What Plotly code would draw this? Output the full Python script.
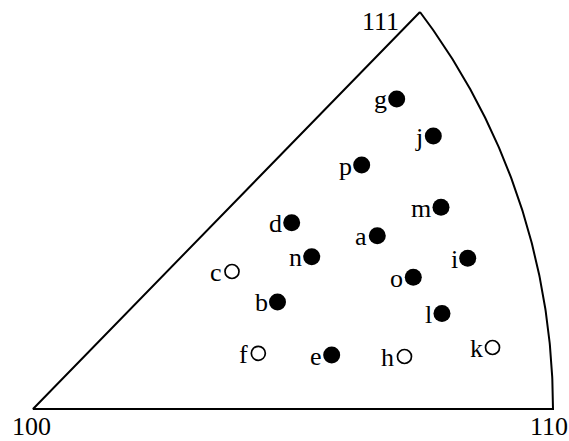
import numpy as np
import plotly.graph_objects as go

# Corners of the standard stereographic triangle (plot units, base = 1)
corner_labels = ["100", "110", "111"]
corner_x = [0.0, 1.0, 0.7442]
corner_y = [0.0, 0.0, 0.7635]

# Orientation points: label, position, filled (True) or open (False)
point_labels = ["g", "j", "p", "m", "d", "a", "n", "i", "c", "o", "b", "l", "f", "e", "h", "k"]
point_x = [0.6994, 0.7698, 0.6321, 0.7846, 0.4975, 0.6621, 0.5360, 0.8360,
           0.3827, 0.7313, 0.4702, 0.7865, 0.4333, 0.5744, 0.7144, 0.8837]
point_y = [0.5962, 0.5250, 0.4692, 0.3879, 0.3583, 0.3333, 0.2929, 0.2898,
           0.2644, 0.2533, 0.2058, 0.1837, 0.1071, 0.1038, 0.1010, 0.1183]
point_filled = [True, True, True, True, True, True, True, True,
                False, True, True, True, False, True, False, False]

SERIF = "Liberation Serif"

# 110-111 edge: circular arc through both corners, tangent vertical at 110
x0, y0 = corner_x[1], corner_y[1]
x1, y1 = corner_x[2], corner_y[2]
cx = ((x1 ** 2 + (y1 - y0) ** 2) - x0 ** 2) / (2 * (x1 - x0))
r = x0 - cx
t_end = np.arctan2(y1 - y0, x1 - cx)
t = np.linspace(0, t_end, 200)
arc_x = cx + r * np.cos(t)
arc_y = y0 + r * np.sin(t)

edge_x = [corner_x[2], corner_x[0], corner_x[1]] + list(arc_x)
edge_y = [corner_y[2], corner_y[0], corner_y[1]] + list(arc_y)

fig = go.Figure()
fig.add_trace(go.Scatter(x=edge_x, y=edge_y, mode="lines",
                         line=dict(color="black", width=2), hoverinfo="skip"))

filled_idx = [i for i, f in enumerate(point_filled) if f]
open_idx = [i for i, f in enumerate(point_filled) if not f]

fig.add_trace(go.Scatter(
    x=[point_x[i] for i in filled_idx], y=[point_y[i] for i in filled_idx],
    mode="markers", marker=dict(size=17, color="black", line=dict(width=0))))

fig.add_trace(go.Scatter(
    x=[point_x[i] for i in open_idx], y=[point_y[i] for i in open_idx],
    mode="markers", marker=dict(size=14, color="white", line=dict(width=1.7, color="black"))))

# Point labels, just left of each marker
for lab, x, y in zip(point_labels, point_x, point_y):
    fig.add_annotation(x=x, y=y, text=lab, showarrow=False,
                       font=dict(family=SERIF, size=26, color="black"),
                       xanchor="right", yanchor="middle", xshift=-8, yshift=-1)

# Corner labels
corner_offsets = [(-0.002, -0.033), (-0.008, -0.033), (-0.076, -0.018)]
for lab, x, y, (dx, dy) in zip(corner_labels, corner_x, corner_y, corner_offsets):
    fig.add_annotation(x=x + dx, y=y + dy, text=lab, showarrow=False,
                       font=dict(family=SERIF, size=26, color="black"),
                       xanchor="center", yanchor="middle")

fig.update_layout(
    width=569, height=441,
    margin=dict(l=0, r=0, t=0, b=0),
    paper_bgcolor="white", plot_bgcolor="white",
    showlegend=False,
    xaxis=dict(range=[-0.06346, 1.03077], visible=False, fixedrange=True),
    yaxis=dict(range=[-0.061538, 0.786538], visible=False, fixedrange=True),
)

fig.write_html("out.html")
